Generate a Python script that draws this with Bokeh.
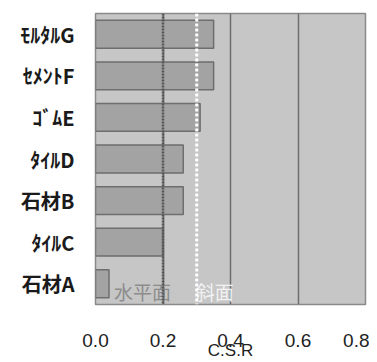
from bokeh.plotting import figure
from bokeh.models import Range1d, Span, FactorRange
from bokeh.core.properties import value
from bokeh.embed import file_html
from bokeh.resources import INLINE

categories = ["石材A", "ﾀｲﾙC", "石材B", "ﾀｲﾙD", "ｺﾞﾑE", "ｾﾒﾝﾄF", "ﾓﾙﾀﾙG"]
csr_values = [0.04, 0.20, 0.26, 0.26, 0.31, 0.35, 0.35]
x_ticks = [0.0, 0.2, 0.4, 0.6, 0.8]
horizontal_limit = 0.2
slope_limit = 0.3

FONT = "Noto Sans CJK JP"

p = figure(width=369, height=362, y_range=FactorRange(*categories),
           x_range=Range1d(0, 0.8), output_backend="svg", toolbar_location=None,
           min_border_left=95, min_border_right=4, min_border_top=13, min_border_bottom=56)
p.background_fill_color = "#c6c6c6"
p.border_fill_color = "white"
p.outline_line_color = "#8a8a8a"
p.outline_line_width = 1.5

p.hbar(y=categories, right=csr_values, left=0, height=0.67,
       fill_color="#a3a3a3", line_color="#6e6e6e", line_width=1.5)

p.ygrid.visible = False
p.xgrid.ticker = x_ticks
p.xgrid.grid_line_color = "#6e6e6e"
p.xgrid.grid_line_width = 1.5

p.add_layout(Span(location=horizontal_limit, dimension="height",
                  line_color="#555555", line_width=2.5, line_dash="2 1"))
p.add_layout(Span(location=slope_limit, dimension="height",
                  line_color="white", line_width=3, line_dash="3 2"))

p.text(x=[0.055], y=[categories[0]], text=["水平面"], y_offset=8,
       text_font=value(FONT), text_font_size="19px", text_color="#8c8c8c",
       text_baseline="middle", text_align="left")
p.text(x=[0.297], y=[categories[0]], text=["斜面"], y_offset=8,
       text_font=value(FONT), text_font_size="19px", text_color="#f2f2f2",
       text_baseline="middle", text_align="left")

p.xaxis.ticker = x_ticks
p.xaxis.major_label_overrides = {v: f"{v:.1f}" for v in x_ticks}
p.xaxis.axis_line_color = None
p.xaxis.major_tick_line_color = None
p.xaxis.minor_tick_line_color = None
p.xaxis.major_label_standoff = 23
p.xaxis.major_label_text_font = "Liberation Sans"
p.xaxis.major_label_text_font_size = "19px"
p.xaxis.major_label_text_color = "#222222"
p.xaxis.axis_label = "C.S.R"
p.xaxis.axis_label_standoff = -9
p.xaxis.axis_label_text_font = "Liberation Sans"
p.xaxis.axis_label_text_font_style = "normal"
p.xaxis.axis_label_text_font_size = "17px"
p.xaxis.axis_label_text_color = "#222222"

p.yaxis.axis_line_color = None
p.yaxis.major_tick_line_color = None
p.yaxis.minor_tick_line_color = None
p.yaxis.major_label_standoff = 15
p.yaxis.major_label_text_font = FONT
p.yaxis.major_label_text_font_size = "20px"
p.yaxis.major_label_text_font_style = "bold"
p.yaxis.major_label_text_color = "#1a1a1a"

open("out.html", "w").write(file_html(p, INLINE))
